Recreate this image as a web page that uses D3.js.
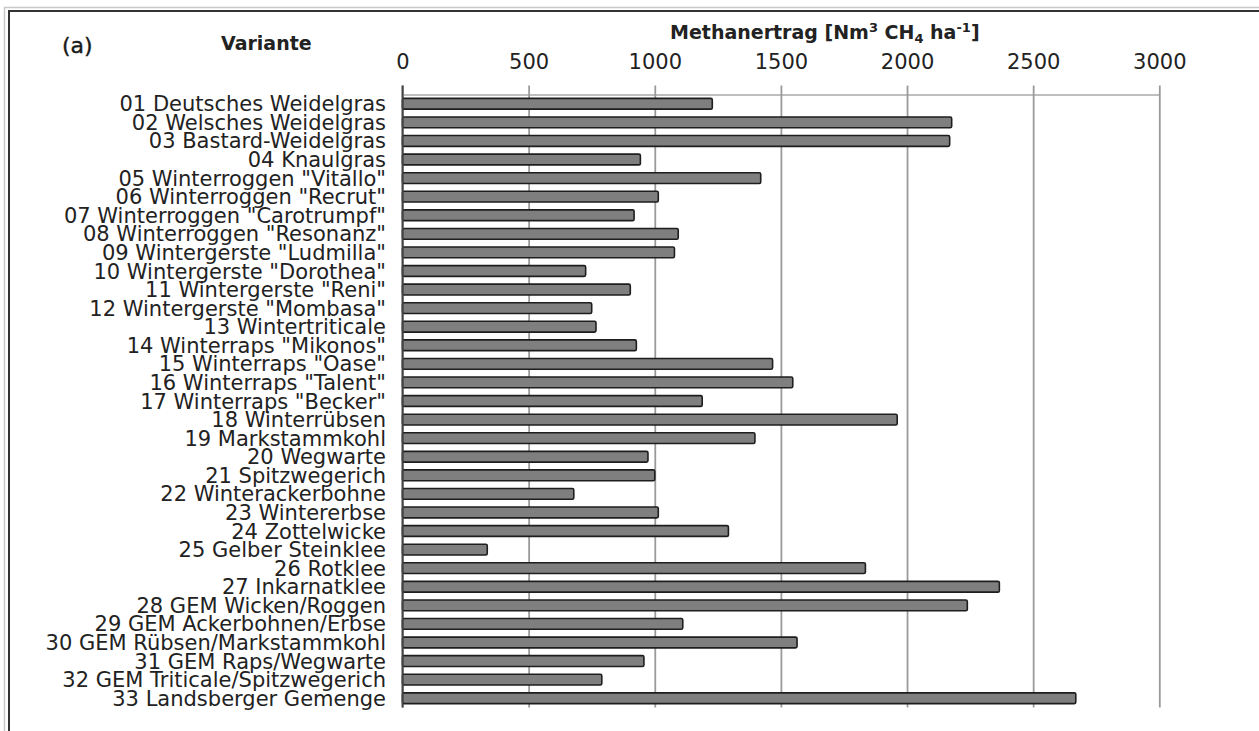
<!DOCTYPE html>
<html lang="de">
<head>
<meta charset="utf-8">
<title>Methanertrag</title>
<script src="https://cdn.jsdelivr.net/npm/d3@7"></script>
<style>
  body { margin: 0; background: #fff; }
  svg { display: block; font-family: 'DejaVu Sans', sans-serif; }
</style>
</head>
<body>
<svg id="chart" width="1259" height="731"></svg>
<script>
// data
const varianten = [
  '01 Deutsches Weidelgras',
  '02 Welsches Weidelgras',
  '03 Bastard-Weidelgras',
  '04 Knaulgras',
  '05 Winterroggen "Vitallo"',
  '06 Winterroggen "Recrut"',
  '07 Winterroggen "Carotrumpf"',
  '08 Winterroggen "Resonanz"',
  '09 Wintergerste "Ludmilla"',
  '10 Wintergerste "Dorothea"',
  '11 Wintergerste "Reni"',
  '12 Wintergerste "Mombasa"',
  '13 Wintertriticale',
  '14 Winterraps "Mikonos"',
  '15 Winterraps "Oase"',
  '16 Winterraps "Talent"',
  '17 Winterraps "Becker"',
  '18 Winterrübsen',
  '19 Markstammkohl',
  '20 Wegwarte',
  '21 Spitzwegerich',
  '22 Winterackerbohne',
  '23 Wintererbse',
  '24 Zottelwicke',
  '25 Gelber Steinklee',
  '26 Rotklee',
  '27 Inkarnatklee',
  '28 GEM Wicken/Roggen',
  '29 GEM Ackerbohnen/Erbse',
  '30 GEM Rübsen/Markstammkohl',
  '31 GEM Raps/Wegwarte',
  '32 GEM Triticale/Spitzwegerich',
  '33 Landsberger Gemenge',
];

const methanertrag = [
  1228, 2177, 2169, 943, 1420, 1014, 918, 1093, 1078, 726, 903, 750, 767,
  927, 1467, 1547, 1188, 1961, 1397, 973, 1000, 679, 1014, 1292, 336, 1835,
  2366, 2239, 1111, 1564, 957, 790, 2669,
];

const xTicks = [0, 500, 1000, 1500, 2000, 2500, 3000];

const dataSet = varianten.map((v, i) => ({ name: v, wert: methanertrag[i] }));

const svg = d3.select('#chart');

// plot area
const plotLeft = 402.5;
const plotRight = 1159.3;
const plotTop = 94.5;
const plotBottom = 707.5;

// frame around the figure (cropped at right + bottom)
svg.append('path')
  .attr('d', 'M4.5,731 V7.5 H1259')
  .attr('fill', 'none')
  .attr('stroke', '#c8c8c8')
  .attr('stroke-width', 1.5);
svg.append('path')
  .attr('d', 'M9,731 V11 H1259')
  .attr('fill', 'none')
  .attr('stroke', '#333')
  .attr('stroke-width', 2);

const xScale = d3.scaleLinear().domain([0, 3000]).range([plotLeft, plotRight]);

const yScale = d3
  .scaleBand()
  .domain(varianten)
  .range([plotTop, plotBottom])
  .paddingInner(0.42)
  .paddingOuter(0.21);

// value axis on top, gridlines run down through the plot
const xAxis = d3
  .axisTop(xScale)
  .tickValues(xTicks)
  .tickFormat(d3.format('d'))
  .tickSizeInner(-(plotBottom - plotTop))
  .tickSizeOuter(0)
  .tickPadding(26);

const gx = svg.append('g').attr('transform', `translate(0,${plotTop})`).call(xAxis);

gx.select('.domain').attr('stroke', '#a8a8a8').attr('stroke-width', 1.5);
gx.selectAll('.tick line')
  .attr('y1', -9)
  .attr('stroke', '#9a9a9a')
  .attr('stroke-width', 1.8);
gx.selectAll('.tick text')
  .attr('font-family', 'DejaVu Sans')
  .attr('font-size', 21)
  .attr('fill', '#222');

// bars
svg.append('g')
  .selectAll('rect')
  .data(dataSet)
  .join('rect')
  .attr('x', xScale(0))
  .attr('y', (d) => yScale(d.name))
  .attr('width', (d) => xScale(d.wert) - xScale(0))
  .attr('height', yScale.bandwidth())
  .attr('rx', 1.5)
  .attr('fill', '#7f7f7f')
  .attr('stroke', '#1e1e1e')
  .attr('stroke-width', 1.6);

// category axis line
svg.append('line')
  .attr('x1', plotLeft)
  .attr('x2', plotLeft)
  .attr('y1', plotTop - 9)
  .attr('y2', plotBottom)
  .attr('stroke', '#444')
  .attr('stroke-width', 2);

// category labels (they touch each other in the original too)
svg.append('g')
  .selectAll('text')
  .data(dataSet)
  .join('text')
  .attr('x', 386)
  .attr('y', (d) => yScale(d.name) + yScale.bandwidth() / 2)
  .attr('dy', '0.36em')
  .attr('text-anchor', 'end')
  .attr('font-size', 21)
  .attr('fill', '#222')
  .text((d) => d.name);

// titles
svg.append('text')
  .attr('x', 62)
  .attr('y', 53)
  .attr('font-size', 22)
  .attr('fill', '#1a1a1a')
  .attr('stroke', '#1a1a1a')
  .attr('stroke-width', 0.4)
  .text('(a)');

svg.append('text')
  .attr('x', 221)
  .attr('y', 50)
  .attr('font-size', 19)
  .attr('font-weight', 'bold')
  .attr('fill', '#222')
  .text('Variante');

const titel = svg.append('text')
  .attr('x', 670)
  .attr('y', 39)
  .attr('font-size', 19)
  .attr('font-weight', 'bold')
  .attr('fill', '#222');
titel.append('tspan').text('Methanertrag [Nm');
titel.append('tspan').attr('dy', -7).attr('font-size', 13).text('3');
titel.append('tspan').attr('dy', 7).text(' CH');
titel.append('tspan').attr('dy', 4).attr('font-size', 13).text('4');
titel.append('tspan').attr('dy', -4).text(' ha');
titel.append('tspan').attr('dy', -7).attr('font-size', 13).text('-1');
titel.append('tspan').attr('dy', 7).text(']');
</script>
</body>
</html>
